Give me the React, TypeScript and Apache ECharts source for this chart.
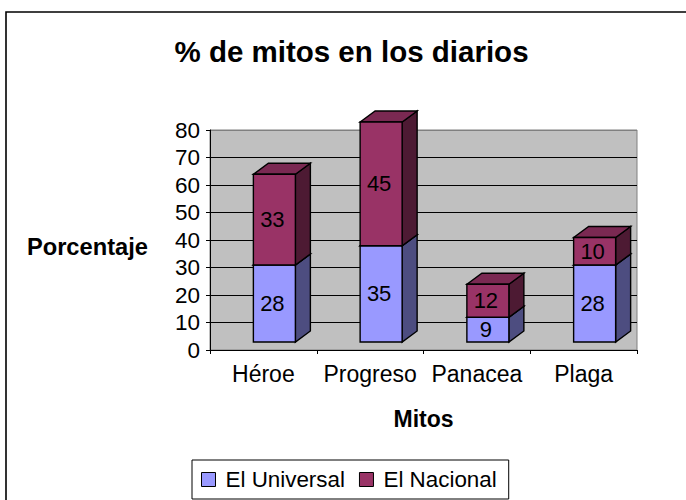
import React, { useEffect, useRef } from "react";
import * as echarts from "echarts";

const categories = ["Héroe", "Progreso", "Panacea", "Plaga"];
const universal = [28, 35, 9, 28];
const nacional = [33, 45, 12, 10];
const yTicks = [0, 10, 20, 30, 40, 50, 60, 70, 80];
const titleText = "% de mitos en los diarios";
const FONT = '"Liberation Sans", Arial, sans-serif';

const bar3d = (front: string, side: string, top: string) => (params: any, api: any) => {
  const i = api.value(0);
  const v = api.value(1);
  const b = api.value(2);
  const center = api.coord([i, 0])[0] + 11;
  const yBase = api.coord([i, b])[1] - 8;
  const yTop = api.coord([i, b + v])[1] - 8;
  const hw = 21;
  const dx = 15;
  const dy = 11;
  const x0 = center - hw;
  const x1 = center + hw;
  const line = { stroke: "#000", lineWidth: 1.4 };
  return {
    type: "group",
    children: [
      { type: "polygon", shape: { points: [[x1, yTop], [x1 + dx, yTop - dy], [x1 + dx, yBase - dy], [x1, yBase]] }, style: { fill: side, ...line } },
      { type: "polygon", shape: { points: [[x0, yTop], [x0 + dx, yTop - dy], [x1 + dx, yTop - dy], [x1, yTop]] }, style: { fill: top, ...line } },
      { type: "rect", shape: { x: x0, y: yTop, width: x1 - x0, height: yBase - yTop }, style: { fill: front, ...line } },
      { type: "text", style: { text: String(v), x: center - 2, y: (yTop + yBase) / 2, align: "center", verticalAlign: "middle", fill: "#000", font: `22px ${FONT}` } },
    ],
  };
};

export default function App() {
  const ref = useRef<HTMLDivElement>(null);
  useEffect(() => {
    const chart = echarts.init(ref.current!, undefined, { renderer: "svg" });
    const universalData = categories.map((_, i) => [i, universal[i], 0]);
    const nacionalData = categories.map((_, i) => [i, nacional[i], universal[i]]);
    chart.setOption({
      animation: false,
      backgroundColor: "#fff",
      title: {
        text: titleText,
        left: 346.5,
        top: 31,
        textAlign: "center",
        textStyle: { fontFamily: FONT, fontSize: 29.5, fontWeight: "bold", color: "#000" },
      },
      graphic: [
        { type: "rect", silent: true, z: -1, shape: { x: 6, y: 12, width: 700, height: 500 }, style: { fill: "none", stroke: "#000", lineWidth: 1.6 } },
      ],
      legend: {
        left: 192,
        top: 460,
        padding: [8, 12, 8, 9],
        borderColor: "#000",
        borderWidth: 1,
        backgroundColor: "#fff",
        icon: "rect",
        itemWidth: 14,
        itemHeight: 14,
        itemGap: 14,
        itemStyle: { borderColor: "#000", borderWidth: 1 },
        textStyle: { fontFamily: FONT, fontSize: 22.4, lineHeight: 23, color: "#000", padding: [0, 0, 0, 5] },
        data: ["El Universal", "El Nacional"],
      },
      grid: {
        left: 210,
        right: 49,
        top: 130,
        bottom: 150,
        outerBoundsMode: "none",
        show: true,
        backgroundColor: "#C0C0C0",
        borderWidth: 1,
        borderColor: "#808080",
      },
      xAxis: {
        type: "category",
        data: categories,
        name: "Mitos",
        nameLocation: "middle",
        nameGap: 57,
        nameTextStyle: { fontFamily: FONT, fontSize: 23, fontWeight: "bold", color: "#000" },
        axisLine: { lineStyle: { color: "#000", width: 1 } },
        axisTick: { show: true, length: 4, lineStyle: { color: "#000" } },
        axisLabel: { fontFamily: FONT, fontSize: 23, color: "#000", margin: 12, interval: 0, hideOverlap: false },
      },
      yAxis: {
        type: "value",
        min: yTicks[0],
        max: yTicks[yTicks.length - 1],
        interval: 10,
        name: "Porcentaje",
        nameLocation: "middle",
        nameRotate: 0,
        nameGap: 62,
        nameTextStyle: { fontFamily: FONT, fontSize: 23.7, fontWeight: "bold", color: "#000", verticalAlign: "top", lineHeight: 14 },
        axisLine: { show: true, lineStyle: { color: "#000", width: 1 } },
        axisTick: { show: true, length: 4, lineStyle: { color: "#000" } },
        axisLabel: { fontFamily: FONT, fontSize: 22.5, color: "#000", margin: 10 },
        splitLine: {
          show: true,
          lineStyle: { color: ["#000", "#000", "#000", "#000", "#000", "#000", "#000", "#000", "#808080"], width: 1 },
        },
      },
      series: [
        {
          name: "El Universal",
          type: "custom",
          data: universalData,
          itemStyle: { color: "#9999FF" },
          clip: false,
          encode: { x: 0, y: 1 },
          renderItem: bar3d("#9999FF", "#4D4D80", "#7A7ACC"),
        },
        {
          name: "El Nacional",
          type: "custom",
          data: nacionalData,
          itemStyle: { color: "#993366" },
          clip: false,
          encode: { x: 0, y: 1 },
          renderItem: bar3d("#993366", "#4D1A33", "#7A2952"),
        },
      ],
    });
    return () => chart.dispose();
  }, []);
  return <div ref={ref} style={{ position: "absolute", left: 0, top: 0, width: 686, height: 500 }} />;
}
